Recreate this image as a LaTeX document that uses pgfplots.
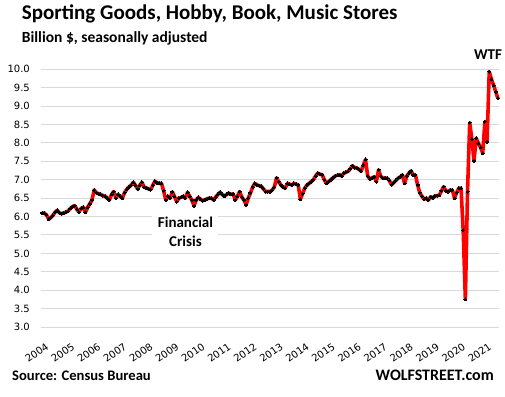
\documentclass[border=0pt]{standalone}
\usepackage{fontspec}
\setmainfont{Carlito}
\newfontfamily\tickfont{DejaVu Sans}
\usepackage{pgfplots}
\pgfplotsset{compat=1.18}
\usepackage{pgfplotstable}
\definecolor{gridgray}{HTML}{D9D9D9}

\pgfplotstableread[row sep=\\]{
m v\\
0 6.10\\ 1 6.09\\ 2 6.05\\ 3 5.93\\ 4 5.97\\ 5 6.03\\ 6 6.12\\ 7 6.17\\ 8 6.10\\ 9 6.08\\ 10 6.10\\ 11 6.12\\
12 6.15\\ 13 6.22\\ 14 6.27\\ 15 6.30\\ 16 6.20\\ 17 6.12\\ 18 6.22\\ 19 6.25\\ 20 6.12\\ 21 6.25\\ 22 6.35\\ 23 6.45\\
24 6.72\\ 25 6.65\\ 26 6.62\\ 27 6.60\\ 28 6.57\\ 29 6.55\\ 30 6.50\\ 31 6.45\\ 32 6.60\\ 33 6.68\\ 34 6.50\\ 35 6.60\\
36 6.55\\ 37 6.50\\ 38 6.65\\ 39 6.74\\ 40 6.80\\ 41 6.85\\ 42 6.93\\ 43 6.85\\ 44 6.75\\ 45 6.85\\ 46 6.93\\ 47 6.80\\
48 6.78\\ 49 6.75\\ 50 6.73\\ 51 6.85\\ 52 6.96\\ 53 6.92\\ 54 6.90\\ 55 6.90\\ 56 6.70\\ 57 6.45\\ 58 6.55\\ 59 6.50\\
60 6.67\\ 61 6.55\\ 62 6.40\\ 63 6.50\\ 64 6.52\\ 65 6.55\\ 66 6.50\\ 67 6.66\\ 68 6.55\\ 69 6.45\\ 70 6.29\\ 71 6.45\\
72 6.52\\ 73 6.47\\ 74 6.43\\ 75 6.46\\ 76 6.48\\ 77 6.50\\ 78 6.50\\ 79 6.45\\ 80 6.53\\ 81 6.60\\ 82 6.66\\ 83 6.60\\
84 6.55\\ 85 6.60\\ 86 6.64\\ 87 6.60\\ 88 6.62\\ 89 6.45\\ 90 6.55\\ 91 6.68\\ 92 6.53\\ 93 6.45\\ 94 6.32\\ 95 6.50\\
96 6.64\\ 97 6.80\\ 98 6.90\\ 99 6.86\\ 100 6.84\\ 101 6.82\\ 102 6.75\\ 103 6.68\\ 104 6.68\\ 105 6.68\\ 106 6.72\\ 107 6.80\\
108 7.05\\ 109 6.95\\ 110 6.86\\ 111 6.80\\ 112 6.77\\ 113 6.90\\ 114 6.88\\ 115 6.86\\ 116 6.90\\ 117 6.88\\ 118 6.86\\ 119 6.47\\
120 6.62\\ 121 6.77\\ 122 6.85\\ 123 6.90\\ 124 6.95\\ 125 7.00\\ 126 7.10\\ 127 7.18\\ 128 7.15\\ 129 7.14\\ 130 7.00\\ 131 6.90\\
132 6.95\\ 133 7.00\\ 134 7.05\\ 135 7.10\\ 136 7.12\\ 137 7.14\\ 138 7.10\\ 139 7.18\\ 140 7.20\\ 141 7.23\\ 142 7.30\\ 143 7.38\\
144 7.33\\ 145 7.32\\ 146 7.28\\ 147 7.23\\ 148 7.40\\ 149 7.55\\ 150 7.10\\ 151 7.02\\ 152 7.05\\ 153 7.08\\ 154 6.95\\ 155 7.27\\
156 7.10\\ 157 7.04\\ 158 7.05\\ 159 7.04\\ 160 6.98\\ 161 6.86\\ 162 6.92\\ 163 6.98\\ 164 7.04\\ 165 7.08\\ 166 7.13\\ 167 6.90\\
168 7.10\\ 169 7.18\\ 170 7.24\\ 171 7.13\\ 172 7.13\\ 173 6.86\\ 174 6.65\\ 175 6.55\\ 176 6.47\\ 177 6.50\\ 178 6.45\\ 179 6.54\\
180 6.50\\ 181 6.56\\ 182 6.57\\ 183 6.58\\ 184 6.70\\ 185 6.81\\ 186 6.70\\ 187 6.68\\ 188 6.72\\ 189 6.72\\ 190 6.50\\ 191 6.65\\
192 6.77\\ 193 6.77\\ 194 5.63\\ 195 3.75\\ 196 6.68\\ 197 8.55\\ 198 8.10\\ 199 7.52\\ 200 8.13\\ 201 7.99\\ 202 7.88\\ 203 7.72\\
204 8.58\\ 205 8.03\\ 206 9.94\\ 207 9.73\\ 208 9.57\\ 209 9.39\\ 210 9.21\\
}\salesdata

\begin{document}
\begin{tikzpicture}
\path[use as bounding box] (-41bp,-70bp) rectangle (464bp,327bp);
\begin{axis}[
  at={(0,0)}, anchor=south west,
  scale only axis, width=458bp, height=257.7bp,
  xmin=-0.5, xmax=210.5, ymin=3, ymax=10,
  axis line style={draw=none},
  major tick length=0pt,
  ymajorgrids, grid style={gridgray, line width=1bp},
  ytick={3,3.5,...,10},
  yticklabel={\pgfmathprintnumber[fixed,fixed zerofill,precision=1]{\tick}},
  yticklabel style={anchor=east, inner sep=0pt, xshift=-11bp},
  xtick={0,12,...,204},
  xticklabels={2004,2005,2006,2007,2008,2009,2010,2011,2012,2013,2014,2015,2016,2017,2018,2019,2020,2021},
  xticklabel style={yshift=-15bp, xshift=3bp, rotate=35, anchor=north east, inner sep=0pt},
  ticklabel style={font=\tickfont\fontsize{10bp}{12bp}\selectfont},
  /pgf/number format/assume math mode=true,
  clip=false,
]
\addplot[red, line width=3.6bp, line join=round, mark=*, mark size=1.5bp,
  mark options={black, fill=black, draw=black, line width=0pt}] table[x=m, y=v]{\salesdata};
\end{axis}
\node[anchor=base west, inner sep=0pt, font=\bfseries\fontsize{21bp}{24bp}\selectfont] at (-19.3bp, 307bp) {Sporting Goods, Hobby, Book, Music Stores};
\node[anchor=base west, inner sep=0pt, font=\bfseries\fontsize{15.5bp}{18bp}\selectfont] at (-19.3bp, 284.3bp) {Billion \$, seasonally adjusted};
\node[anchor=base, inner sep=0pt, font=\bfseries\fontsize{15bp}{17bp}\selectfont] at (447bp, 267bp) {WTF};
\fill[white] (111bp, 74bp) rectangle (177bp, 114bp);
\node[anchor=base, inner sep=0pt, font=\bfseries\fontsize{15bp}{17bp}\selectfont] at (144.5bp, 99bp) {Financial};
\node[anchor=base, inner sep=0pt, font=\bfseries\fontsize{15bp}{17bp}\selectfont] at (144.5bp, 80.3bp) {Crisis};
\node[anchor=base west, inner sep=0pt, font=\bfseries\fontsize{14.6bp}{17bp}\selectfont] at (-29bp, -53bp) {Source: Census Bureau};
\node[anchor=base east, inner sep=0pt, font=\bfseries\fontsize{16bp}{18bp}\selectfont] at (453bp, -53bp) {WOLFSTREET.com};
\end{tikzpicture}
\end{document}
